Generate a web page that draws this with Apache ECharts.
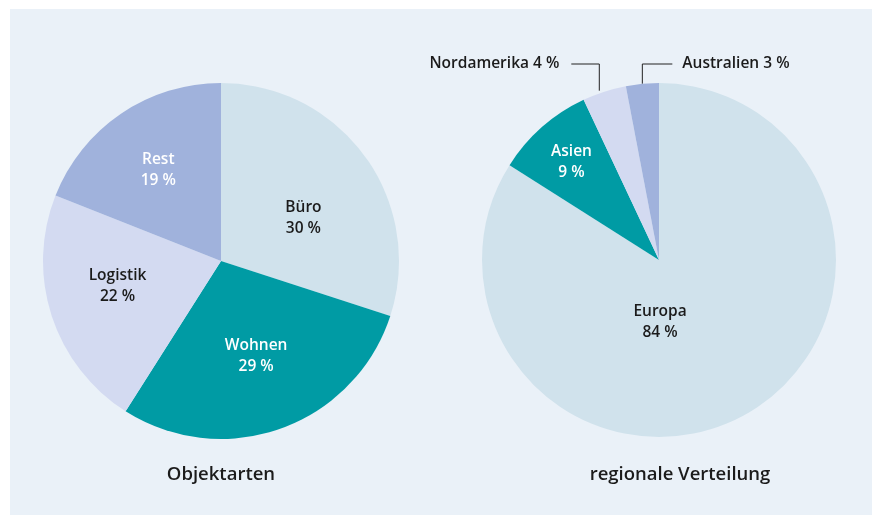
<!DOCTYPE html>
<html>
<head>
<meta charset="utf-8">
<script src="https://cdn.jsdelivr.net/npm/echarts@6/dist/echarts.min.js"></script>
<style>
  html, body { margin: 0; padding: 0; background: #fff; }
  #chart { position: absolute; left: 10px; top: 9px; width: 862px; height: 506px; }
</style>
</head>
<body>
<div id="chart"></div>
<script>
// Objektarten
const typeNames = ['Büro', 'Wohnen', 'Logistik', 'Rest'];
const typeShares = [30, 29, 22, 19];

// regionale Verteilung
const regionNames = ['Europa', 'Asien', 'Nordamerika', 'Australien'];
const regionShares = [84, 9, 4, 3];

const chartTitles = ['Objektarten', 'regionale Verteilung'];

// Farben (gleiche Reihenfolge in beiden Kreisen)
const sliceColors = ['#d0e2ec', '#009ba4', '#d3daf1', '#a0b2dc'];
const typeLabelColors = ['#1b1b1b', '#ffffff', '#1b1b1b', '#ffffff'];
const regionLabelColors = ['#1b1b1b', '#ffffff', '#1b1b1b', '#1b1b1b'];

// Layout
const FONT = '"Open Sans", "Noto Sans", sans-serif';
const leftCenter = [211, 252], leftR = 178;
const rightCenter = [649, 251], rightR = 177;
const titleX = [206, 665];
// Verschiebung der Innenbeschriftungen gegenüber der Standardposition
const typeLabelShift = [[8, 11], [4, 9], [-16, -3], [-11, -15]];
const regionLabelShift = [[-43, -18], [-27, -29], null, null];

const chart = echarts.init(document.getElementById('chart'));

function buildData(names, values, labelColors, outside) {
  return names.map((n, i) => {
    const item = {
      name: n,
      value: values[i],
      itemStyle: { color: sliceColors[i] },
      label: { color: labelColors[i] }
    };
    if (outside && outside[i]) {
      item.label.position = 'outside';
      item.label.formatter = p => p.name + ' ' + p.value + ' %';
      item.labelLine = { show: true, length: 20, length2: 20, lineStyle: { color: '#222', width: 1 } };
    }
    return item;
  });
}

const labelBase = {
  show: true,
  position: 'inside',
  formatter: p => p.name + '\n' + p.value + ' %',
  fontFamily: FONT,
  fontSize: 15.5,
  fontWeight: 600,
  lineHeight: 21
};

chart.setOption({
  backgroundColor: '#eaf1f8',
  animation: false,
  title: chartTitles.map((t, i) => ({
    text: t,
    left: titleX[i],
    top: 451,
    textAlign: 'center',
    textStyle: { fontFamily: FONT, fontSize: 18.5, fontWeight: 600, color: '#1b1b1b' }
  })),
  series: [
    {
      type: 'pie',
      center: leftCenter,
      radius: [0, leftR],
      startAngle: 90,
      clockwise: true,
      silent: true,
      label: labelBase,
      labelLine: { show: false },
      labelLayout: p => {
        const s = typeLabelShift[p.dataIndex];
        return { dx: s[0], dy: s[1] };
      },
      data: buildData(typeNames, typeShares, typeLabelColors)
    },
    {
      type: 'pie',
      center: rightCenter,
      radius: [0, rightR],
      startAngle: 90,
      clockwise: true,
      silent: true,
      label: labelBase,
      labelLine: { show: false },
      labelLayout: p => {
        const s = regionLabelShift[p.dataIndex];
        if (s) return { dx: s[0], dy: s[1] };
        // Außenbeschriftung: senkrechte Linie nach oben, dann waagerecht
        const p0 = p.labelLinePoints ? p.labelLinePoints[0] : [rightCenter[0], rightCenter[1] - rightR];
        const levelY = rightCenter[1] - rightR - 19;
        if (p.dataIndex === 2) {
          const x0 = p0[0] - 5, y0 = p0[1] - 1;
          return {
            x: x0 - 40, y: levelY, align: 'right', verticalAlign: 'middle',
            labelLinePoints: [[x0, y0], [x0, levelY], [x0 - 28, levelY]]
          };
        }
        return {
          x: p0[0] + 40, y: levelY, align: 'left', verticalAlign: 'middle',
          labelLinePoints: [[p0[0], p0[1]], [p0[0], levelY], [p0[0] + 30, levelY]]
        };
      },
      data: buildData(regionNames, regionShares, regionLabelColors, [false, false, true, true])
    }
  ]
});
</script>
</body>
</html>
